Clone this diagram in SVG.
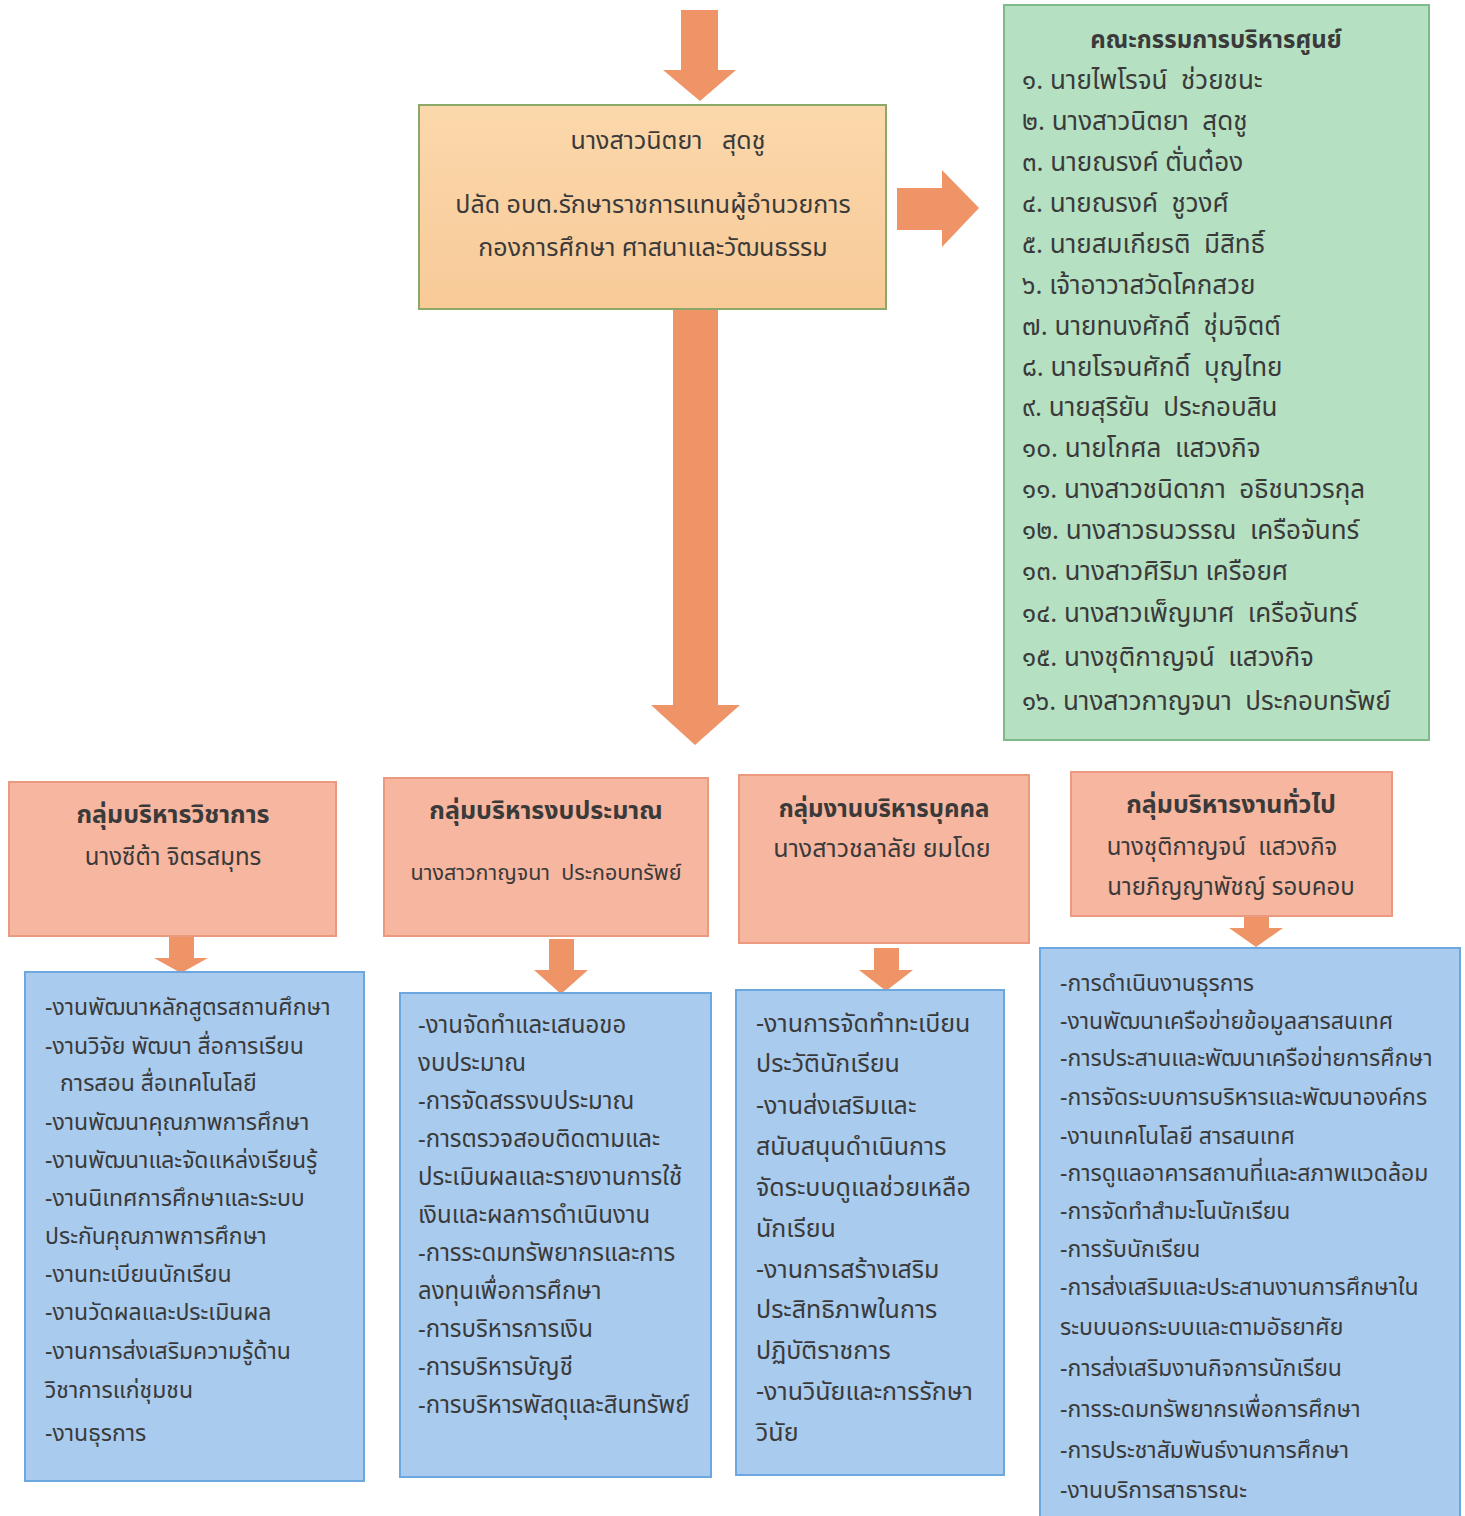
<svg xmlns="http://www.w3.org/2000/svg" width="1465" height="1516" viewBox="0 0 1465 1516">
<defs>
<linearGradient id="gTop" x1="0" y1="0" x2="0" y2="1">
<stop offset="0" stop-color="#fbd8ab"/>
<stop offset="1" stop-color="#f8ca98"/>
</linearGradient>
<style>
text{font-family:"Noto Sans Thai","Noto Sans Thai UI","Loma","Garuda","Tlwg Typo","Norasi","Waree","DejaVu Sans","Noto Sans",sans-serif;fill:#3a3a3a;font-size:23px;white-space:pre}
.c{text-anchor:middle}
.b{font-weight:bold}
.t25{font-size:25px}
.t24{font-size:24px}
.t26{font-size:26px}
.arrow{fill:#ef9466}
.top{fill:url(#gTop);stroke:#8ba868;stroke-width:2}
.green{fill:#b5e0c2;stroke:#7dbb8a;stroke-width:2}
.grp{fill:#f6b6a0;stroke:#eb9a80;stroke-width:2}
.blue{fill:#a9cbee;stroke:#6ca7df;stroke-width:2}
</style>
</defs>
<rect width="1465" height="1516" fill="#ffffff"/>

<g id="connectors">
<polygon class="arrow" points="681,10 718,10 718,70 736,70 700,101 663,70 681,70"/>
<polygon class="arrow" points="897,188 942,188 942,170 979,208 942,247 942,230 897,230"/>
<polygon class="arrow" points="673,309 718,309 718,705 740,705 695,745 651,705 673,705"/>
<polygon class="arrow" points="169,936 194,936 194,958 208,958 181,973 154,958 169,958"/>
<polygon class="arrow" points="549,939 574,939 574,970 588,970 561,994 534,970 549,970"/>
<polygon class="arrow" points="874,948 899,948 899,970 913,970 886,991 859,970 874,970"/>
<polygon class="arrow" points="1244,916 1269,916 1269,928 1283,928 1256,947 1229,928 1244,928"/>
</g>

<g id="director" class="t25">
<rect class="top" x="419" y="105" width="467" height="204"/>
<text class="c t25" x="668" y="149">นางสาวนิตยา   สุดชู</text>
<text class="c t25" x="653" y="213">ปลัด อบต.รักษาราชการแทนผู้อำนวยการ</text>
<text class="c t25" x="653" y="256">กองการศึกษา ศาสนาและวัฒนธรรม</text>
</g>

<g id="committee">
<rect class="green" x="1004" y="5" width="425" height="735"/>
<text class="c b t24" x="1216" y="48">คณะกรรมการบริหารศูนย์</text>
<text class="t26" x="1022" y="89">๑. นายไพโรจน์  ช่วยชนะ</text>
<text class="t26" x="1022" y="130">๒. นางสาวนิตยา  สุดชู</text>
<text class="t26" x="1022" y="171">๓. นายณรงค์ ตั่นต๋อง</text>
<text class="t26" x="1022" y="212">๔. นายณรงค์  ชูวงศ์</text>
<text class="t26" x="1022" y="253">๕. นายสมเกียรติ  มีสิทธิ์</text>
<text class="t26" x="1022" y="294">๖. เจ้าอาวาสวัดโคกสวย</text>
<text class="t26" x="1022" y="335">๗. นายทนงศักดิ์  ชุ่มจิตต์</text>
<text class="t26" x="1022" y="376">๘. นายโรจนศักดิ์  บุญไทย</text>
<text class="t26" x="1022" y="416">๙. นายสุริยัน  ประกอบสิน</text>
<text class="t26" x="1022" y="457">๑๐. นายโกศล  แสวงกิจ</text>
<text class="t26" x="1022" y="498">๑๑. นางสาวชนิดาภา  อธิชนาวรกุล</text>
<text class="t26" x="1022" y="539">๑๒. นางสาวธนวรรณ  เครือจันทร์</text>
<text class="t26" x="1022" y="580">๑๓. นางสาวศิริมา เครือยศ</text>
<text class="t26" x="1022" y="622">๑๔. นางสาวเพ็ญมาศ  เครือจันทร์</text>
<text class="t26" x="1022" y="666">๑๕. นางชุติกาญจน์  แสวงกิจ</text>
<text class="t26" x="1022" y="710">๑๖. นางสาวกาญจนา  ประกอบทรัพย์</text>
</g>

<g id="grp-academic">
<rect class="grp" x="9" y="782" width="327" height="154"/>
<text class="c b t25" x="173" y="823">กลุ่มบริหารวิชาการ</text>
<text class="c t24" x="173" y="865">นางซีต้า จิตรสมุทร</text>
</g>
<g id="grp-budget">
<rect class="grp" x="384" y="778" width="324" height="158"/>
<text class="c b t25" x="546" y="819">กลุ่มบริหารงบประมาณ</text>
<text class="c" x="546" y="880" style="font-size:21.5px">นางสาวกาญจนา  ประกอบทรัพย์</text>
</g>
<g id="grp-personnel">
<rect class="grp" x="739" y="775" width="290" height="168"/>
<text class="c b t24" x="884" y="817">กลุ่มงานบริหารบุคคล</text>
<text class="c t25" x="882" y="857">นางสาวชลาลัย ยมโดย</text>
</g>
<g id="grp-general">
<rect class="grp" x="1071" y="772" width="321" height="144"/>
<text class="c b t25" x="1231" y="813">กลุ่มบริหารงานทั่วไป</text>
<text class="c t24" x="1222" y="855">นางชุติกาญจน์  แสวงกิจ</text>
<text class="c t24" x="1231" y="895">นายภิญญาพัชญ์ รอบคอบ</text>
</g>

<g id="tasks-academic">
<rect class="blue" x="25" y="972" width="339" height="509"/>
<text x="45" y="1015">-งานพัฒนาหลักสูตรสถานศึกษา</text>
<text x="45" y="1054">-งานวิจัย พัฒนา สื่อการเรียน</text>
<text x="60" y="1091">การสอน สื่อเทคโนโลยี</text>
<text x="45" y="1130">-งานพัฒนาคุณภาพการศึกษา</text>
<text x="45" y="1168">-งานพัฒนาและจัดแหล่งเรียนรู้</text>
<text x="45" y="1206">-งานนิเทศการศึกษาและระบบ</text>
<text x="45" y="1244">ประกันคุณภาพการศึกษา</text>
<text x="45" y="1282">-งานทะเบียนนักเรียน</text>
<text x="45" y="1320">-งานวัดผลและประเมินผล</text>
<text x="45" y="1359">-งานการส่งเสริมความรู้ด้าน</text>
<text x="45" y="1398">วิชาการแก่ชุมชน</text>
<text x="45" y="1441">-งานธุรการ</text>
</g>

<g id="tasks-budget">
<rect class="blue" x="400" y="993" width="311" height="484"/>
<text class="t24" x="418" y="1033">-งานจัดทำและเสนอขอ</text>
<text class="t24" x="418" y="1071">งบประมาณ</text>
<text class="t24" x="418" y="1109">-การจัดสรรงบประมาณ</text>
<text class="t24" x="418" y="1147">-การตรวจสอบติดตามและ</text>
<text class="t24" x="418" y="1185">ประเมินผลและรายงานการใช้</text>
<text class="t24" x="418" y="1223">เงินและผลการดำเนินงาน</text>
<text class="t24" x="418" y="1261">-การระดมทรัพยากรและการ</text>
<text class="t24" x="418" y="1299">ลงทุนเพื่อการศึกษา</text>
<text class="t24" x="418" y="1337">-การบริหารการเงิน</text>
<text class="t24" x="418" y="1375">-การบริหารบัญชี</text>
<text class="t24" x="418" y="1413">-การบริหารพัสดุและสินทรัพย์</text>
</g>

<g id="tasks-personnel">
<rect class="blue" x="736" y="990" width="268" height="485"/>
<text class="t25" x="756" y="1032">-งานการจัดทำทะเบียน</text>
<text class="t25" x="756" y="1072">ประวัตินักเรียน</text>
<text class="t25" x="756" y="1114">-งานส่งเสริมและ</text>
<text class="t25" x="756" y="1155">สนับสนุนดำเนินการ</text>
<text class="t25" x="756" y="1196">จัดระบบดูแลช่วยเหลือ</text>
<text class="t25" x="756" y="1237">นักเรียน</text>
<text class="t25" x="756" y="1278">-งานการสร้างเสริม</text>
<text class="t25" x="756" y="1318">ประสิทธิภาพในการ</text>
<text class="t25" x="756" y="1359">ปฏิบัติราชการ</text>
<text class="t25" x="756" y="1400">-งานวินัยและการรักษา</text>
<text class="t25" x="756" y="1441">วินัย</text>
</g>

<g id="tasks-general">
<rect class="blue" x="1040" y="948" width="420" height="580"/>
<text x="1060" y="991">-การดำเนินงานธุรการ</text>
<text x="1060" y="1029">-งานพัฒนาเครือข่ายข้อมูลสารสนเทศ</text>
<text x="1060" y="1066">-การประสานและพัฒนาเครือข่ายการศึกษา</text>
<text x="1060" y="1105">-การจัดระบบการบริหารและพัฒนาองค์กร</text>
<text x="1060" y="1144">-งานเทคโนโลยี สารสนเทศ</text>
<text x="1060" y="1181">-การดูแลอาคารสถานที่และสภาพแวดล้อม</text>
<text x="1060" y="1219">-การจัดทำสำมะโนนักเรียน</text>
<text x="1060" y="1257">-การรับนักเรียน</text>
<text x="1060" y="1295">-การส่งเสริมและประสานงานการศึกษาใน</text>
<text x="1060" y="1335">ระบบนอกระบบและตามอัธยาศัย</text>
<text x="1060" y="1376">-การส่งเสริมงานกิจการนักเรียน</text>
<text x="1060" y="1417">-การระดมทรัพยากรเพื่อการศึกษา</text>
<text x="1060" y="1458">-การประชาสัมพันธ์งานการศึกษา</text>
<text x="1060" y="1498">-งานบริการสาธารณะ</text>
</g>
</svg>
